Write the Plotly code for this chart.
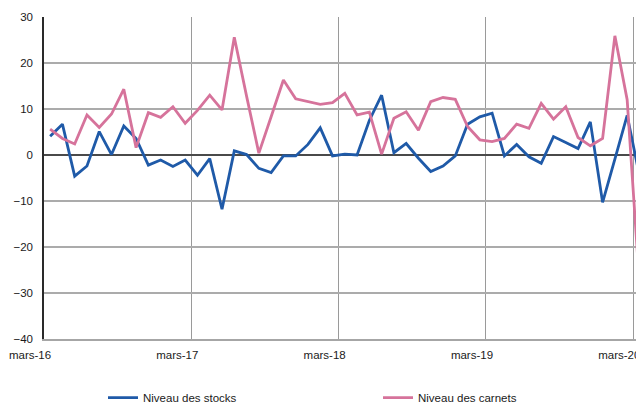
import plotly.graph_objects as go

# Monthly survey balances, March 2016 to March 2020 (+ first point after)
months = [f"{m}-{y}" for y in range(2016, 2021) for m in
          ["01", "02", "03", "04", "05", "06", "07", "08", "09", "10", "11", "12"]][2:51]

stocks = [4.1, 6.7, -4.6, -2.4, 5.1, 0.1, 6.3, 3.6, -2.2, -1.1, -2.5, -1.1,
          -4.4, -0.8, -11.8, 0.9, 0.1, -2.9, -3.8, -0.2, -0.2, 2.3, 5.9, -0.2,
          0.2, 0.0, 7.5, 13.0, 0.5, 2.5, -0.7, -3.6, -2.4, -0.2, 6.7, 8.3,
          9.1, -0.2, 2.3, -0.4, -1.8, 4.0, 2.7, 1.4, 7.2, -10.3, -0.9, 8.6,
          -4.5]

carnets = [5.6, 3.6, 2.4, 8.7, 6.0, 8.9, 14.3, 1.6, 9.2, 8.2, 10.5, 6.9,
           9.7, 13.0, 9.8, 25.6, 12.8, 0.4, 8.3, 16.3, 12.2, 11.6, 11.0, 11.4,
           13.4, 8.7, 9.3, 0.2, 8.0, 9.4, 5.4, 11.6, 12.5, 12.1, 6.2, 3.3,
           2.9, 3.6, 6.7, 5.8, 11.2, 7.8, 10.5, 3.8, 2.0, 3.6, 25.9, 12.0,
           -28.0]

tick_labels = ["mars-16", "mars-17", "mars-18", "mars-19", "mars-20"]
y_ticks = [-40, -30, -20, -10, 0, 10, 20, 30]

idx = list(range(len(months)))
tick_pos = [i * 12 - 0.5 for i in range(len(tick_labels))]

BLUE = "#1f5aa8"
PINK = "#d6739b"
FONT = "Liberation Sans, Arial, sans-serif"

fig = go.Figure()
fig.add_trace(go.Scatter(x=idx, y=stocks, mode="lines", name="Niveau des stocks",
                         line=dict(color=BLUE, width=2.8), customdata=months,
                         hovertemplate="%{customdata}: %{y}<extra></extra>"))
fig.add_trace(go.Scatter(x=idx, y=carnets, mode="lines", name="Niveau des carnets",
                         line=dict(color=PINK, width=2.8), customdata=months,
                         hovertemplate="%{customdata}: %{y}<extra></extra>"))

fig.update_layout(
    width=636, height=405,
    margin=dict(l=44, r=0, t=17, b=66, autoexpand=False),
    paper_bgcolor="white", plot_bgcolor="white",
    font=dict(family=FONT, size=11.5, color="#1a1a1a"),
    showlegend=True,
    legend=dict(orientation="h", xref="container", yref="container",
                x=103 / 636, xanchor="left", y=0.018, yanchor="middle",
                entrywidth=230, entrywidthmode="pixels",
                font=dict(size=11.5), bgcolor="rgba(0,0,0,0)", itemwidth=30),
)

fig.update_xaxes(
    range=[-0.5, 47.72], tickvals=tick_pos, ticktext=tick_labels,
    showgrid=True, gridcolor="#9a9a9a", gridwidth=1.2,
    showline=True, linecolor="#a6a6a6", linewidth=2,
    zeroline=False, ticks="", ticklabelshift=-14, ticklabelstandoff=4,
    ticklabeloverflow="allow", automargin=False,
)
fig.update_yaxes(
    range=[-40, 30], tickvals=y_ticks,
    showgrid=True, gridcolor="#ababab", gridwidth=2,
    zeroline=True, zerolinecolor="#4a4a4a", zerolinewidth=2,
    showline=True, linecolor="#2a2a2a", linewidth=1.5,
    ticks="", ticklabelstandoff=7, automargin=False,
)

fig.write_html("out.html")
